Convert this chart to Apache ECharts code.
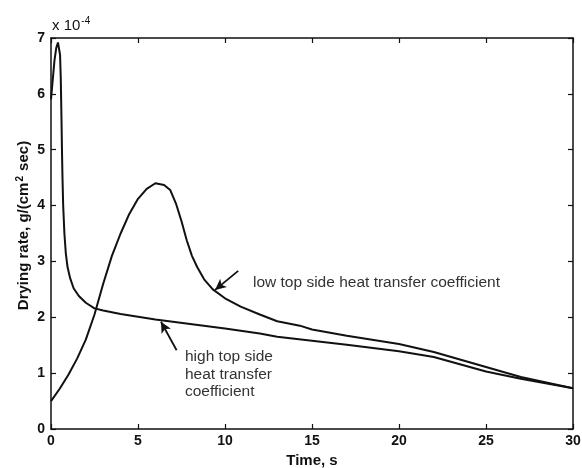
<!DOCTYPE html>
<html><head><meta charset="utf-8">
<script src="https://cdn.jsdelivr.net/npm/echarts@6/dist/echarts.min.js"></script>
<style>html,body{margin:0;padding:0;background:#fff}#c{width:582px;height:468px}</style>
</head><body><div id="c"></div>
<script>
// Time (s) and drying rate (x 1e-4 g/(cm^2 sec))
var highTime = [0, 0.1, 0.2, 0.3, 0.4, 0.47, 0.52, 0.56, 0.6, 0.63, 0.66, 0.7, 0.77, 0.85, 0.95, 1.1, 1.3, 1.6, 2.0, 2.5, 3.0, 4.0, 5.0, 6.0, 7.0, 8.0, 10, 12, 13, 15, 17, 20, 22, 25, 27, 30];
var highRate = [5.9, 6.25, 6.6, 6.82, 6.92, 6.9, 6.7, 6.3, 5.6, 5.0, 4.5, 4.0, 3.5, 3.15, 2.9, 2.7, 2.52, 2.38, 2.26, 2.16, 2.12, 2.06, 2.01, 1.96, 1.92, 1.88, 1.8, 1.71, 1.65, 1.58, 1.51, 1.39, 1.29, 1.03, 0.9, 0.73];
var lowTime = [0, 0.5, 1.0, 1.5, 2.0, 2.5, 3.0, 3.5, 4.0, 4.5, 5.0, 5.5, 6.0, 6.5, 6.85, 7.2, 7.5, 7.8, 8.1, 8.4, 8.8, 9.3, 10, 10.9, 12, 13, 14.3, 15, 17, 20, 22, 25, 27, 30];
var lowRate = [0.5, 0.72, 0.97, 1.26, 1.6, 2.05, 2.6, 3.1, 3.5, 3.85, 4.12, 4.3, 4.4, 4.37, 4.28, 4.02, 3.72, 3.38, 3.1, 2.9, 2.68, 2.5, 2.34, 2.19, 2.05, 1.93, 1.85, 1.78, 1.67, 1.52, 1.38, 1.11, 0.93, 0.73];
var xTicks = [0, 5, 10, 15, 20, 25, 30];
var yTicks = [0, 1, 2, 3, 4, 5, 6, 7];
var lowLabel = 'low top side heat transfer coefficient';
var highLabel = ['high top side', 'heat transfer', 'coefficient'];
var lowArrow = [[10.76, 2.83], [9.43, 2.49]];
var highArrow = [[7.22, 1.41], [6.32, 1.92]];

function pairs(t, v) { return t.map(function (x, i) { return [x, v[i]]; }); }

var F = 'Liberation Sans, Arial, sans-serif';
var chart = echarts.init(document.getElementById('c'), null, { renderer: 'canvas' });
var axisLine = { show: true, onZero: false, lineStyle: { color: '#111', width: 1.5 } };
var tick = { show: true, inside: true, length: 5, lineStyle: { color: '#111', width: 1.2 } };
function arrowLine(a) {
  return [{ coord: a[0], symbol: 'none' }, { coord: a[1], symbol: 'arrow', symbolSize: [8, 11] }];
}
chart.setOption({
  animation: false,
  backgroundColor: '#fff',
  grid: { left: 51, right: 9, top: 38, bottom: 39, containLabel: false, outerBoundsMode: 'none' },
  xAxis: [{
    type: 'value', min: 0, max: 30, interval: 5,
    axisLine: axisLine, axisTick: tick, splitLine: { show: false },
    axisLabel: { color: '#111', fontFamily: F, fontWeight: 'bold', fontSize: 14, margin: 5,
      formatter: function (v) { return xTicks.indexOf(v) >= 0 ? String(v) : ''; } },
    name: 'Time, s', nameLocation: 'middle', nameGap: 24,
    nameTextStyle: { color: '#111', fontFamily: F, fontWeight: 'bold', fontSize: 15 }
  }, {
    type: 'value', min: 0, max: 30, interval: 5, position: 'top',
    axisLine: axisLine, axisTick: tick, axisLabel: { show: false }, splitLine: { show: false }
  }],
  yAxis: [{
    type: 'value', min: 0, max: 7, interval: 1,
    axisLine: axisLine, axisTick: tick, splitLine: { show: false },
    axisLabel: { color: '#111', fontFamily: F, fontWeight: 'bold', fontSize: 14, margin: 6,
      formatter: function (v) { return yTicks.indexOf(v) >= 0 ? String(v) : ''; } },
    name: '{b|Drying rate, g/(cm}{s|2}{b| sec)}', nameLocation: 'middle', nameGap: 19,
    nameMoveOverlap: false,
    nameTextStyle: { color: '#111', fontFamily: F, fontWeight: 'bold', fontSize: 15, padding: [0, 0, 0, 16],
      rich: { b: { fontFamily: F, fontWeight: 'bold', fontSize: 15, color: '#111' },
              s: { fontFamily: F, fontWeight: 'bold', fontSize: 10, color: '#111', verticalAlign: 'top', padding: [0, 1, 7, 1] } } }
  }, {
    type: 'value', min: 0, max: 7, interval: 1, position: 'right',
    axisLine: axisLine, axisTick: tick, axisLabel: { show: false }, splitLine: { show: false }
  }],
  series: [{
    type: 'line', name: 'high', data: pairs(highTime, highRate), showSymbol: false,
    smooth: false,
    lineStyle: { color: '#111', width: 2 },
    markLine: { silent: true, symbol: ['none', 'arrow'], label: { show: false },
      lineStyle: { color: '#111', width: 1.8, type: 'solid' }, data: [arrowLine(highArrow)] }
  }, {
    type: 'line', name: 'low', data: pairs(lowTime, lowRate), showSymbol: false,
    smooth: false,
    lineStyle: { color: '#111', width: 2 },
    markLine: { silent: true, symbol: ['none', 'arrow'], label: { show: false },
      lineStyle: { color: '#111', width: 1.8, type: 'solid' }, data: [arrowLine(lowArrow)] }
  }],
  graphic: [
    { type: 'text', left: 253, top: 275, style: { text: lowLabel, font: '15.5px ' + F, fill: '#333' } },
    { type: 'text', left: 185, top: 348, style: { text: highLabel.join('\n'), font: '15.5px ' + F, fill: '#333', lineHeight: 17.5 } },
    { type: 'text', left: 52, top: 16, style: {
        text: '{a|x 10}{b|-4}', rich: { a: { font: '15px ' + F, fill: '#111' }, b: { font: '10px ' + F, fill: '#111', verticalAlign: 'top', padding: [0, 0, 9, 1] } } } }
  ]
});
</script></body></html>
